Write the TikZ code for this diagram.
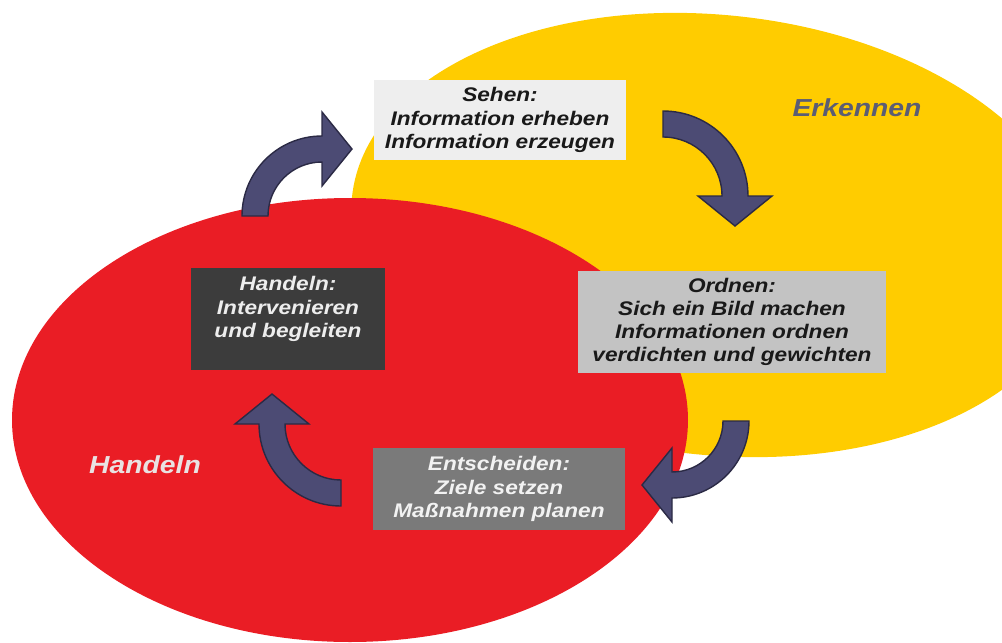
\documentclass[tikz,border=0pt]{standalone}
\usepackage{fontspec}
\usetikzlibrary{calc}
\newfontfamily\diafont[FakeStretch=1.15]{Liberation Sans}

\definecolor{erkgelb}{HTML}{FFCC00}
\definecolor{handrot}{HTML}{EA1D25}
\definecolor{pfeilblau}{HTML}{4C4B74}
\definecolor{pfeilrand}{HTML}{2B2A45}
\definecolor{boxhell}{HTML}{EEEEEE}
\definecolor{boxdunkel}{HTML}{3C3C3C}
\definecolor{boxgrau}{HTML}{C3C3C3}
\definecolor{boxmittel}{HTML}{7A7A7A}
\definecolor{erktext}{HTML}{5B5D74}
\definecolor{handtext}{HTML}{E9E2E2}

\tikzset{
  boxtext/.style={font=\diafont\bfseries\itshape\fontsize{11.2}{13.2}\selectfont, align=center, inner sep=0pt},
  hellbox/.style={boxtext, fill=boxhell, text=black!90, minimum width=5.06cm, minimum height=1.6cm},
  dunkelbox/.style={fill=boxdunkel, minimum width=3.9cm, minimum height=2.04cm, inner sep=0pt},
  graubox/.style={boxtext, fill=boxgrau, text=black!90, minimum width=6.18cm, minimum height=2.06cm},
  mittelbox/.style={boxtext, fill=boxmittel, text=white!95!black, minimum width=5.04cm, minimum height=1.64cm},
  biglabel/.style={font=\diafont\bfseries\itshape\fontsize{14}{16}\selectfont, inner sep=0pt},
  pfeil/.style={fill=pfeilblau, draw=pfeilrand, line width=0.8pt, line join=miter}
}

% bent block arrow: centre, start angle, end angle, radius
\newcommand{\bentarrow}[4]{%
  \filldraw[pfeil] ($(#1)+({#2}:{#4+13})$) arc[start angle=#2, end angle=#3, radius=#4+13]
    -- ($(#1)+({#3}:{#4+37})$) -- ($(#1)+({#3}:{#4})+({#3+90}:30)$)
    -- ($(#1)+({#3}:{#4-37})$) -- ($(#1)+({#3}:{#4-13})$)
    arc[start angle=#3, end angle=#2, radius=#4-13] -- cycle;}

\begin{document}
\begin{tikzpicture}[x=0.02cm, y=-0.02cm]

\clip (0,0) rectangle (1002,643);

% two fields
\fill[erkgelb, rotate around={-6:(715,235)}] (715,235) ellipse [x radius=365, y radius=220];
\fill[handrot] (350,420) ellipse [x radius=338, y radius=222];

% arrows
\coordinate (pfeilA) at (322,216);
\coordinate (pfeilB) at (663,196);
\coordinate (pfeilC) at (672,421);
\coordinate (pfeilD) at (341,424);

\bentarrow{pfeilA}{180}{270}{67}
\bentarrow{pfeilB}{270}{360}{72}
\bentarrow{pfeilC}{0}{90}{64}
\bentarrow{pfeilD}{90}{180}{69}

% boxes
\node[hellbox] (sehen) at (500,120) {Sehen:\\Information erheben\\Information erzeugen};
\node[dunkelbox] (handeln) at (288,319) {};
\node[boxtext, text=white!93!black] (handelntext) at (288,309) {Handeln:\\Intervenieren\\und begleiten};
\node[graubox] (ordnen) at (732,322) {Ordnen:\\Sich ein Bild machen\\Informationen ordnen\\verdichten und gewichten};
\node[mittelbox] (entscheiden) at (499,489) {Entscheiden:\\Ziele setzen\\Maßnahmen planen};

% field labels
\node[biglabel, text=erktext] (erkennen) at (857,108) {Erkennen};
\node[biglabel, text=handtext] (handelnlabel) at (145,465) {Handeln};

\end{tikzpicture}
\end{document}
